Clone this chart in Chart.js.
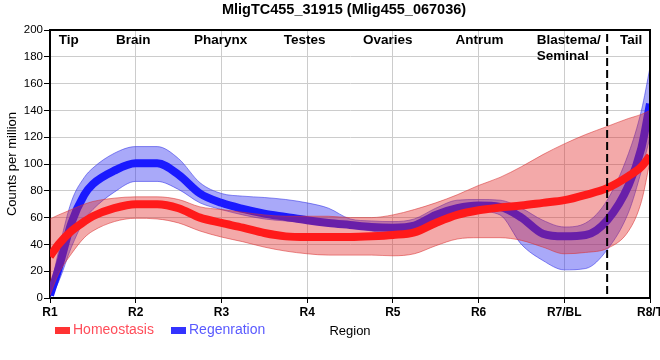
<!DOCTYPE html>
<html>
<head>
<meta charset="utf-8">
<script src="https://cdn.jsdelivr.net/npm/chart.js@4.4.1/dist/chart.umd.min.js"></script>
<style>
  html, body { margin: 0; padding: 0; background: #ffffff; }
  #wrap { width: 660px; height: 360px; }
</style>
</head>
<body>
<div id="wrap"><canvas id="c" width="660" height="360"></canvas></div>
<script>
// ---------------- data ----------------
const chartTitle = "MligTC455_31915 (Mlig455_067036)";
const xLabels = ["R1", "R2", "R3", "R4", "R5", "R6", "R7/BL", "R8/T"];
const regionNames = ["Tip", "Brain", "Pharynx", "Testes", "Ovaries", "Antrum", "Blastema/\nSeminal", "Tail"];
const regionPos = [0.22, 0.97, 1.99, 2.97, 3.94, 5.01, 5.68, 6.78];
const seriesNames = ["Homeostasis", "Regenration"];

// positions along the region axis (0 = R1 ... 7 = R8/T)
const xs = [0, 0.1, 0.25, 0.4, 0.5, 0.75, 1, 1.25, 1.5, 1.75, 2, 2.25, 2.5, 2.75, 3, 3.25, 3.5, 3.75,
            4, 4.25, 4.5, 4.75, 5, 5.25, 5.5, 5.75, 6, 6.25, 6.5, 6.75, 6.9, 7];

const homeoMean = [31, 40, 50, 57, 61, 67, 70, 70, 67, 60, 56, 52.5, 48.5, 46, 45.5, 45.5, 45.5, 46,
                   47, 49, 56, 62, 65.5, 67.5, 69, 71, 73, 77, 82, 91, 98, 106];
const homeoHigh = [59, 62, 66, 70, 72, 74.5, 75.5, 75.5, 73.5, 68, 66, 64, 62, 61, 61, 61, 60, 60,
                   62, 66, 71, 77, 84, 90, 98, 107, 115, 122, 128, 134, 137, 140];
const homeoLow  = [2, 18, 33, 45, 50, 57, 59.5, 59, 56, 50, 45.5, 42, 38, 35, 33, 32, 32, 32,
                   31.5, 33, 39, 44, 45, 45, 43, 38, 33, 34, 37, 50, 72, 102];

const regenMean = [2, 22, 56, 77, 85, 95, 100.5, 100.5, 92, 78, 71, 66.5, 63, 60.5, 58, 56, 54.5, 53,
                   52.5, 54, 62, 67, 69, 68, 60, 48, 46, 47, 58, 84, 112, 145];
const regenHigh = [5, 35, 72, 90, 97, 108, 113, 113, 104, 86, 78, 76, 75, 73.5, 71, 67, 59, 57.5,
                   57, 59, 67, 73, 73.5, 73, 67, 58, 53, 56, 73, 108, 140, 172];
const regenLow  = [0, 12, 38, 58, 66, 79, 87, 87, 81, 71, 66, 62, 59, 57.5, 56.5, 55.5, 53, 50,
                   48, 50, 57, 62.5, 64.5, 62, 40, 28, 21, 22, 36, 64, 95, 120];

const yMin = 0, yMax = 200, yStep = 20;

// ---------------- helpers ----------------
const FONT = "'Liberation Sans', Arial, Helvetica, sans-serif";
const pts = arr => arr.map((v, i) => ({ x: xs[i], y: v }));

const redLine = '#ff1a1a';
const blueLine = '#1a1aff';
const redBand = 'rgba(225, 40, 40, 0.4)';
const redBandEdge = 'rgba(215, 50, 50, 0.55)';
const blueBand = 'rgba(40, 40, 240, 0.4)';
const blueBandEdge = 'rgba(50, 50, 230, 0.55)';

const lineCommon = {
  pointRadius: 0, pointHoverRadius: 0, cubicInterpolationMode: 'monotone',
  borderCapStyle: 'butt', borderJoinStyle: 'round'
};

const datasets = [
  // index 0 drawn last (on top)
  Object.assign({ label: seriesNames[0], data: pts(homeoMean), borderColor: redLine, borderWidth: 8, fill: false }, lineCommon),
  Object.assign({ label: 'hHigh', data: pts(homeoHigh), borderColor: redBandEdge, borderWidth: 1, backgroundColor: redBand, fill: '+1' }, lineCommon),
  Object.assign({ label: 'hLow', data: pts(homeoLow), borderColor: redBandEdge, borderWidth: 1, fill: false }, lineCommon),
  Object.assign({ label: seriesNames[1], data: pts(regenMean), borderColor: blueLine, borderWidth: 8, fill: false }, lineCommon),
  Object.assign({ label: 'rHigh', data: pts(regenHigh), borderColor: blueBandEdge, borderWidth: 1, backgroundColor: blueBand, fill: '+1' }, lineCommon),
  Object.assign({ label: 'rLow', data: pts(regenLow), borderColor: blueBandEdge, borderWidth: 1, fill: false }, lineCommon)
];

// ---------------- decorations plugin ----------------
const decor = {
  id: 'decor',
  afterDatasetsDraw(chart) {
    const { ctx, chartArea: a, scales: { x } } = chart;
    ctx.save();
    // dashed separator between R7/BL and R8/T
    const dx = x.getPixelForValue(6.5);
    ctx.strokeStyle = '#000';
    ctx.lineWidth = 2;
    ctx.setLineDash([8, 4]);
    ctx.beginPath();
    ctx.moveTo(dx, a.top + 4);
    ctx.lineTo(dx, a.bottom);
    ctx.stroke();
    ctx.setLineDash([]);
    // top and right frame
    ctx.lineWidth = 2;
    ctx.beginPath();
    ctx.moveTo(a.left, a.top);
    ctx.lineTo(a.right, a.top);
    ctx.lineTo(a.right, a.bottom);
    ctx.stroke();
    // region names
    ctx.fillStyle = '#000';
    ctx.font = "bold 13.5px " + FONT;
    ctx.textBaseline = 'middle';
    regionNames.forEach((name, i) => {
      const px = x.getPixelForValue(regionPos[i]);
      const lines = name.split('\n');
      if (lines.length > 1) {
        ctx.textAlign = 'left';
        lines.forEach((ln, j) => ctx.fillText(ln, px, a.top + 10 + j * 16));
      } else {
        ctx.textAlign = 'center';
        ctx.fillText(name, px, a.top + 10);
      }
    });
    ctx.restore();
  },
  afterDraw(chart) {
    const { ctx } = chart;
    ctx.save();
    // title
    ctx.fillStyle = '#000';
    ctx.font = "bold 14.5px " + FONT;
    ctx.textAlign = 'center';
    ctx.textBaseline = 'middle';
    ctx.fillText(chartTitle, 344, 10);
    // legend
    const items = [
      { text: seriesNames[0], box: '#ff3333', color: '#ff4d5a', bx: 55 },
      { text: seriesNames[1], box: '#3333ff', color: '#5a5aff', bx: 171 }
    ];
    ctx.font = "14px " + FONT;
    ctx.textAlign = 'left';
    items.forEach(it => {
      ctx.fillStyle = it.box;
      ctx.fillRect(it.bx, 327, 15, 7);
      ctx.fillStyle = it.color;
      ctx.fillText(it.text, it.bx + 18, 330.5);
    });
    ctx.restore();
  }
};

// ---------------- chart ----------------
new Chart(document.getElementById('c'), {
  type: 'line',
  data: { datasets },
  options: {
    responsive: false,
    devicePixelRatio: 1,
    animation: false,
    layout: { padding: { left: 0, right: 10, top: 30, bottom: 0 } },
    plugins: { legend: { display: false }, title: { display: false }, tooltip: { enabled: false } },
    scales: {
      x: {
        type: 'linear', min: 0, max: xLabels.length - 1,
        afterFit: s => { s.height = 62; s.paddingLeft = 0; s.paddingRight = 0; },
        ticks: {
          stepSize: 1, autoSkip: false, maxRotation: 0, padding: 2,
          color: '#000', font: { family: FONT, size: 12, weight: 'bold' },
          callback: v => xLabels[v] !== undefined ? xLabels[v] : ''
        },
        grid: { color: '#cccccc', lineWidth: 1, tickLength: 5, tickColor: '#000' },
        border: { color: '#000', width: 2 },
        title: { display: true, text: 'Region', color: '#000', font: { family: FONT, size: 13 }, padding: { top: 0, bottom: 21 } }
      },
      y: {
        min: yMin, max: yMax,
        afterFit: s => { s.width = 50; s.paddingTop = 0; s.paddingBottom = 0; },
        ticks: { stepSize: yStep, padding: 1, color: '#000', font: { family: FONT, size: 11.5 } },
        grid: { color: '#cccccc', lineWidth: 1, tickLength: 6, tickColor: '#000' },
        border: { color: '#000', width: 2 },
        title: { display: true, text: 'Counts per million', color: '#000', font: { family: FONT, size: 13 }, padding: { top: 5, bottom: 0 } }
      }
    }
  },
  plugins: [decor]
});
</script>
</body>
</html>
